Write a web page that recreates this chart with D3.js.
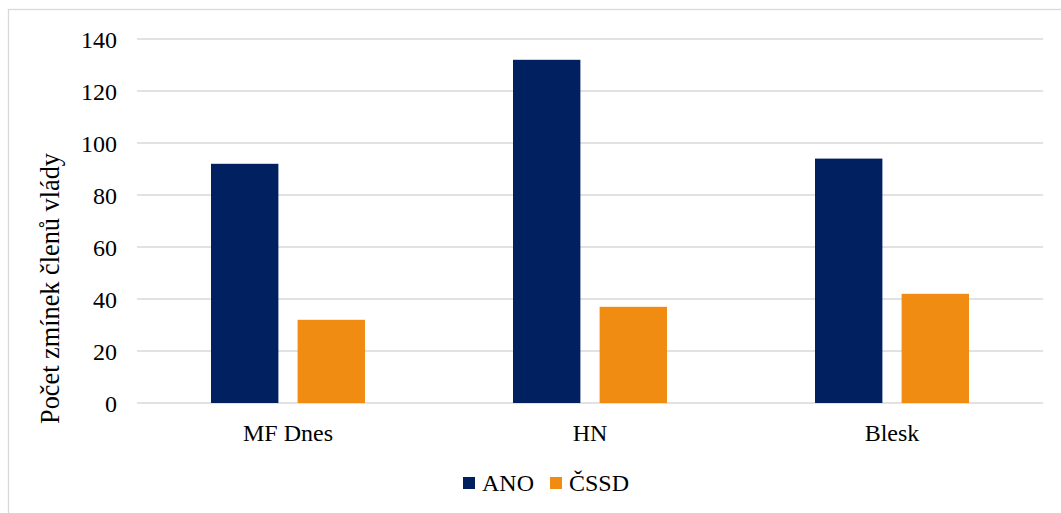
<!DOCTYPE html>
<html>
<head>
<meta charset="utf-8">
<script src="https://cdn.jsdelivr.net/npm/d3@7"></script>
<style>
  html, body { margin: 0; padding: 0; background: #fff; }
  svg { display: block; }
</style>
</head>
<body>
<svg id="chart" width="1061" height="513"></svg>
<script>
const categories = ["MF Dnes", "HN", "Blesk"];
const seriesNames = ["ANO", "ČSSD"];
const anoValues = [92, 132, 94];
const cssdValues = [32, 37, 42];
const yTicks = [0, 20, 40, 60, 80, 100, 120, 140];
const yTitle = "Počet zmínek členů vlády";
const colors = ["#002060", "#F08C12"];

const FONT = "Liberation Serif";
const FS = "24px";

const svg = d3.select("#chart");
const plot = { left: 137, right: 1043, top: 39, bottom: 403 };

// chart border (partially outside the viewport)
svg.append("rect")
  .attr("x", 8.5).attr("y", 9.5)
  .attr("width", 1200).attr("height", 700)
  .attr("fill", "none").attr("stroke", "#d9d9d9").attr("stroke-width", 1.3);

const y = d3.scaleLinear().domain([0, 140]).range([plot.bottom, plot.top]);
const x0 = d3.scaleBand().domain(categories).range([plot.left, plot.right]).paddingInner(0).paddingOuter(0);
const x1 = d3.scaleBand().domain(seriesNames).range([74, 228]).paddingInner(0.222).paddingOuter(0);

// gridlines
svg.append("g").selectAll("line").data(yTicks).join("line")
  .attr("x1", plot.left).attr("x2", plot.right)
  .attr("y1", d => y(d)).attr("y2", d => y(d))
  .attr("stroke", "#d9d9d9").attr("stroke-width", 1.3);

// y axis labels
const yAxis = d3.axisLeft(y).tickValues(yTicks).tickSize(0).tickPadding(0);
const ya = svg.append("g").attr("transform", `translate(117,0)`).call(yAxis);
ya.select(".domain").remove();
ya.selectAll("text")
  .style("font-family", FONT).style("font-size", FS).style("fill", "#000")
  .attr("dy", "0.34em");

// bars
const data = categories.map((c, i) => ({ cat: c, values: [anoValues[i], cssdValues[i]] }));
const groups = svg.append("g").selectAll("g").data(data).join("g")
  .attr("transform", d => `translate(${x0(d.cat)},0)`);
groups.selectAll("rect").data(d => d.values.map((v, j) => ({ key: seriesNames[j], v, j })))
  .join("rect")
  .attr("x", d => x1(d.key))
  .attr("width", x1.bandwidth())
  .attr("y", d => y(d.v))
  .attr("height", d => y(0) - y(d.v))
  .attr("fill", d => colors[d.j]);

// x axis labels
const xAxis = d3.axisBottom(x0).tickSize(0).tickPadding(0);
const xa = svg.append("g").attr("transform", `translate(0,${plot.bottom})`).call(xAxis);
xa.select(".domain").remove();
xa.selectAll("text")
  .style("font-family", FONT).style("font-size", FS).style("fill", "#000")
  .attr("dy", null).attr("y", 38);

// y title
svg.append("text")
  .attr("transform", "translate(59,288.5) rotate(-90)")
  .attr("text-anchor", "middle")
  .style("font-family", FONT).style("font-size", "26.3px").style("fill", "#000")
  .text(yTitle);

// legend
const legendX = [463, 550];
const lg = svg.append("g").selectAll("g").data(seriesNames).join("g")
  .attr("transform", (d, i) => `translate(${legendX[i]},0)`);
lg.append("rect").attr("x", 0).attr("y", 477).attr("width", 12).attr("height", 12)
  .attr("fill", (d, i) => colors[i]);
lg.append("text").attr("x", 19).attr("y", 491)
  .style("font-family", FONT).style("font-size", FS).style("fill", "#000")
  .text(d => d);
</script>
</body>
</html>
